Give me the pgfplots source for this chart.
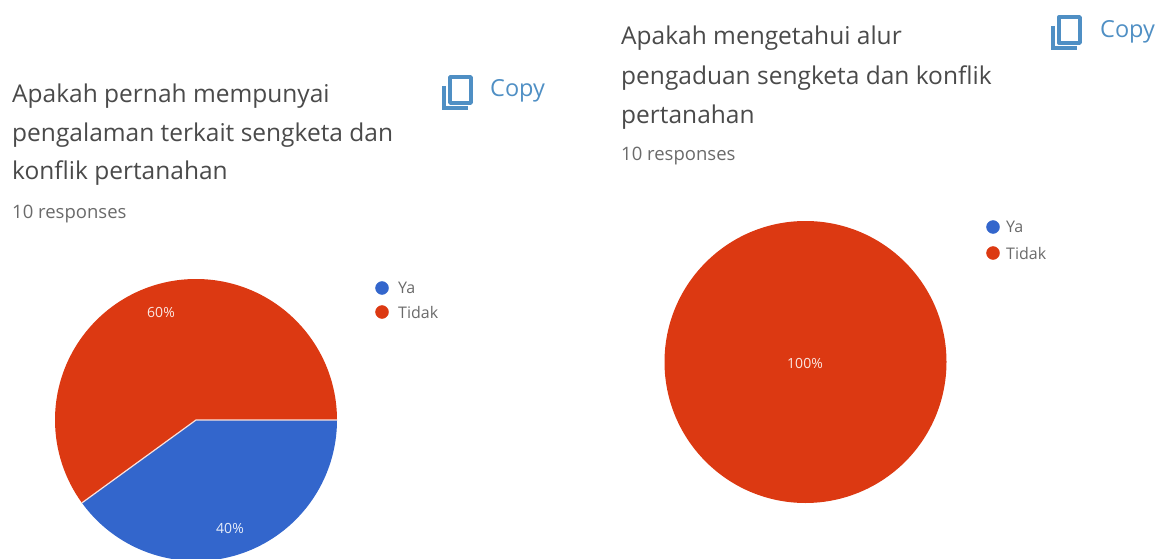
\documentclass[border=0pt]{standalone}
\usepackage{pgfplots}
\usepackage{pgfplotstable}
\usepackage{fontspec}
\pgfplotsset{compat=1.18}
\setmainfont{Open Sans}
\definecolor{gblue}{HTML}{3366CC}
\definecolor{gred}{HTML}{DC3912}
\definecolor{titlegrey}{HTML}{4A4A4A}
\definecolor{subgrey}{HTML}{6A6A6A}
\definecolor{copyblue}{HTML}{4F8FC4}

% Shares of the two answers for each question
\pgfplotstableread{
answer share
Ya 40
Tidak 60
}\pengalaman
\pgfplotstableread{
answer share
Ya 0
Tidak 100
}\alur
\pgfplotstablegetelem{0}{share}\of\pengalaman
\pgfmathsetmacro{\yaA}{\pgfplotsretval}
\pgfplotstablegetelem{1}{share}\of\pengalaman
\pgfmathsetmacro{\tidakA}{\pgfplotsretval}
\pgfplotstablegetelem{1}{share}\of\alur
\pgfmathsetmacro{\tidakB}{\pgfplotsretval}
\pgfmathsetmacro{\angA}{3.6*\tidakA}
\pgfmathsetmacro{\angB}{3.6*\tidakB}

\newcommand{\copybutton}[2]{%
  \draw[copyblue,line width=3.4pt,line join=round] (axis cs:#1+7,#2-3) rectangle (axis cs:#1+28,#2-29);
  \draw[copyblue,line width=3.4pt] (axis cs:#1+1,#2-12) -- (axis cs:#1+1,#2-34) -- (axis cs:#1+25,#2-34);
}

\begin{document}
\begin{tikzpicture}
\useasboundingbox (0,0) rectangle (1170pt,558pt);
\begin{axis}[
  x=1pt, y=1pt, scale only axis,
  xmin=0, xmax=1170, ymin=0, ymax=558,
  hide axis, clip=true,
  point meta=explicit symbolic,
  nodes near coords,
  nodes near coords style={font=\fontsize{14}{16}\selectfont, anchor=center, inner sep=0pt},
]
% Pie slices, starting at the 3 o'clock position
\fill[gred] (axis cs:196,138) -- ++(0:141pt) arc[start angle=0,end angle=\angA,radius=141pt] -- cycle;
\fill[gblue] (axis cs:196,138) -- ++(\angA:141pt) arc[start angle=\angA,end angle=360,radius=141pt] -- cycle;
\draw[white!85!gred,line width=1.2pt] (axis cs:337,138) -- (axis cs:196,138) -- ++(\angA:141pt);
\fill[gred] (axis cs:805.5,196) ++(0:141pt) arc[start angle=0,end angle=\angB,radius=141pt] -- cycle;

% Percentage labels on the slices
\addplot[only marks,mark=none,nodes near coords style={text=white!88!gred}]
  coordinates {(161,246)[60\%] (805,195)[100\%]};
\addplot[only marks,mark=none,nodes near coords style={text=white!88!gblue}]
  coordinates {(230,30)[40\%]};

% Legend markers
\addplot[only marks,mark=*,mark size=6.5pt,gblue,nodes near coords={}] coordinates {(382,270)[] (993,331)[]};
\addplot[only marks,mark=*,mark size=6.5pt,gred,nodes near coords={}] coordinates {(382,246)[] (993,305)[]};

% Legend text
\begin{scope}[every node/.style={anchor=west,inner sep=0pt,text=subgrey,font=\fontsize{16}{18}\selectfont}]
\node at (axis cs:398,270) {Ya};
\node at (axis cs:398,246) {Tidak};
\node at (axis cs:1006,331) {Ya};
\node at (axis cs:1006,305) {Tidak};
\end{scope}

% Question titles
\begin{scope}[every node/.style={anchor=base west,inner sep=0pt,text=titlegrey,font=\fontsize{24.5}{28}\selectfont}]
\node at (axis cs:12,455) {Apakah pernah mempunyai};
\node at (axis cs:12,416) {pengalaman terkait sengketa dan};
\node at (axis cs:12,378) {konflik pertanahan};
\node at (axis cs:621,513) {Apakah mengetahui alur};
\node at (axis cs:621,473) {pengaduan sengketa dan konflik};
\node at (axis cs:621,434) {pertanahan};
\end{scope}
\begin{scope}[every node/.style={anchor=base west,inner sep=0pt,text=subgrey,font=\fontsize{18.5}{22}\selectfont}]
\node at (axis cs:12,339) {10 responses};
\node at (axis cs:621,397) {10 responses};
\end{scope}

% Copy buttons
\copybutton{443}{484}
\copybutton{1052}{544}
\begin{scope}[every node/.style={anchor=base west,inner sep=0pt,text=copyblue,font=\fontsize{23.5}{26}\selectfont}]
\node at (axis cs:490,461) {Copy};
\node at (axis cs:1100,520) {Copy};
\end{scope}
\end{axis}
\end{tikzpicture}
\end{document}
